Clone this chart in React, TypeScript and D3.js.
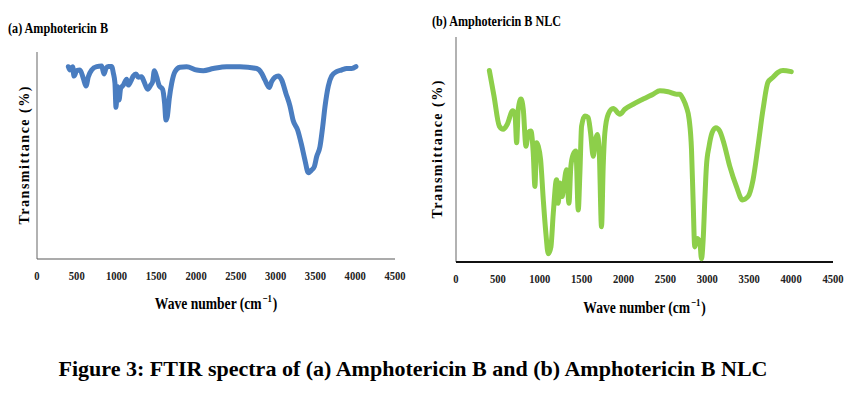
import * as d3 from "d3";
import { useEffect, useRef } from "react";

// (a) Amphotericin B – wave number (cm-1) vs transmittance (%)
const waveA = [
  394, 415, 448, 465, 500, 540, 582, 616, 645, 687, 750, 813, 842, 867, 896, 938,
  960, 980, 993, 1010, 1031, 1051, 1085, 1127, 1148, 1177, 1211, 1244, 1274, 1315,
  1345, 1391, 1429, 1454, 1475, 1504, 1537, 1579, 1604, 1621, 1638, 1663, 1693,
  1734, 1797, 1881, 2007, 2090, 2216, 2384, 2551, 2761, 2824, 2865, 2920, 2949,
  2991, 3033, 3075, 3129, 3180, 3221, 3276, 3326, 3368, 3410, 3452, 3486, 3515,
  3557, 3591, 3620, 3662, 3704, 3766, 3829, 3892, 3955, 4009,
];
const transA = [
  92.9, 91.3, 92.9, 88.4, 91, 91.3, 87.3, 83.6, 88, 91.3, 92.9, 93.2, 89.4, 92, 93, 93,
  89.7, 84.9, 73.3, 83.3, 76.8, 82.4, 84, 86.8, 84, 85.7, 88.4, 89.4, 87.8, 88.1,
  85.7, 82, 84, 85.7, 91, 88, 83.6, 82, 75.2, 67.1, 68.8, 77.6, 84.9,
  90.5, 92.6, 92.9, 91.3, 91, 92, 92.9, 92.9, 92, 89.7, 86.5, 82.9, 85.7,
  87.8, 88.4, 86.5, 80, 73.9, 66.8, 62.3, 55, 47.8, 41.7, 43, 44.6, 49.4,
  54.3, 63.9, 73.6, 83.6, 88.4, 90.5, 91.3, 92, 92, 92.9,
];

// (b) Amphotericin B NLC
const waveB = [
  398, 453, 517, 564, 612, 676, 704, 724, 743, 775, 803, 835, 863, 894, 922, 942,
  962, 982, 1010, 1042, 1073, 1101, 1133, 1161, 1200, 1220, 1240, 1268, 1288, 1320,
  1348, 1371, 1399, 1431, 1459, 1479, 1499, 1538, 1578, 1606, 1638, 1666, 1686,
  1709, 1737, 1757, 1777, 1817, 1876, 1956, 2015, 2115, 2234, 2353, 2433, 2532,
  2632, 2671, 2711, 2751, 2783, 2811, 2830, 2850, 2878, 2910, 2930, 2950, 2970,
  2989, 3021, 3057, 3101, 3148, 3196, 3268, 3347, 3419, 3486, 3546, 3605, 3665,
  3724, 3784, 3844, 3903, 4002,
];
const transB = [
  85.1, 73.9, 60.4, 59, 61.2, 67.2, 65.7, 53, 67.9, 72.4, 67.9, 51.5, 57.5, 58.2, 48.5, 33.6,
  53, 51.5, 45.5, 27.6, 12.7, 3.7, 6.7, 21.6, 36.6, 26.1, 35.1, 29.1, 34.3, 41,
  26.1, 42.5, 47.8, 49.3, 23.1, 39.6, 60.4, 64.9, 64.2, 57.5, 47, 54.5, 56.7,
  50, 15.7, 42.5, 57.5, 65.7, 68.2, 65.7, 67.9, 70.1, 72.4, 74.6, 76.1, 75.7,
  74.6, 74.6, 72.4, 68.7, 63.4, 50, 27.6, 6.7, 10.4, 9, 1.5, 9.7, 27.6,
  42.5, 51.5, 57.5, 59.7, 58.2, 53, 42.5, 33.6, 27.6, 29.1, 36.6, 51.5, 67.9,
  79.9, 82.1, 84.3, 85.1, 84.6,
];

const xTicks = [0, 500, 1000, 1500, 2000, 2500, 3000, 3500, 4000, 4500];

const SERIF = "'Liberation Serif', 'Times New Roman', serif";

type PanelProps = {
  title: string;
  titleX: number;
  titleY: number;
  titleLen: number;
  wave: number[];
  trans: number[];
  color: string;
  left: number;
  right: number;
  top: number;
  bottom: number;
  xAxisColor: string;
  xAxisWidth: number;
  yLabelX: number;
  xLabelY: number;
  tickY: number;
};

function drawPanel(g: d3.Selection<SVGGElement, unknown, null, undefined>, p: PanelProps) {
  const x = d3.scaleLinear().domain([0, 4500]).range([p.left, p.right]);
  const y = d3.scaleLinear().domain([0, 100]).range([p.bottom, p.top]);

  g.append("text")
    .attr("x", p.titleX)
    .attr("y", p.titleY)
    .attr("font-family", SERIF)
    .attr("font-weight", "bold")
    .attr("font-size", 15)
    .attr("textLength", p.titleLen)
    .attr("lengthAdjust", "spacingAndGlyphs")
    .text(p.title);

  // y axis line (no ticks)
  g.append("line")
    .attr("x1", p.left)
    .attr("x2", p.left)
    .attr("y1", p.top)
    .attr("y2", p.bottom)
    .attr("stroke", "#7f7f7f")
    .attr("stroke-width", 1.2);

  g.append("line")
    .attr("x1", p.left)
    .attr("x2", p.right)
    .attr("y1", p.bottom)
    .attr("y2", p.bottom)
    .attr("stroke", p.xAxisColor)
    .attr("stroke-width", p.xAxisWidth);

  g.selectAll(".tick")
    .data(xTicks)
    .join("text")
    .attr("x", (d) => x(d))
    .attr("y", p.tickY)
    .attr("text-anchor", "middle")
    .attr("font-family", SERIF)
    .attr("font-weight", "bold")
    .attr("font-size", 13)
    .attr("textLength", (d) => String(d).length * 5.3)
    .attr("lengthAdjust", "spacingAndGlyphs")
    .attr("fill", "#222")
    .text((d) => String(d));

  const line = d3
    .line<number>()
    .x((_, i) => x(p.wave[i]))
    .y((d) => y(d))
    .curve(d3.curveMonotoneX);

  g.append("path")
    .datum(p.trans)
    .attr("fill", "none")
    .attr("stroke", p.color)
    .attr("stroke-width", 5)
    .attr("stroke-linejoin", "round")
    .attr("stroke-linecap", "round")
    .attr("d", line);

  const midY = (p.top + p.bottom) / 2;
  g.append("text")
    .attr("transform", `translate(${p.yLabelX},${midY}) rotate(-90)`)
    .attr("text-anchor", "middle")
    .attr("font-family", SERIF)
    .attr("font-weight", "bold")
    .attr("font-size", 14)
    .attr("textLength", 138)
    .attr("lengthAdjust", "spacing")
    .text("Transmittance  (%)");

  // condensed look through a horizontal squeeze
  const xl = g
    .append("text")
    .attr("transform", `translate(${(p.left + p.right) / 2},${p.xLabelY}) scale(0.8,1)`)
    .attr("text-anchor", "middle")
    .attr("font-family", SERIF)
    .attr("font-weight", "bold")
    .attr("font-size", 17);
  xl.append("tspan").text("Wave number (cm");
  xl.append("tspan").attr("font-size", 11).attr("dy", -7).attr("dx", 1).text("\u22121");
  xl.append("tspan").attr("dy", 7).attr("dx", 1).text(")");
}

function App() {
  const ref = useRef<SVGSVGElement>(null);

  useEffect(() => {
    const svg = d3.select(ref.current);
    svg.selectAll("*").remove();

    drawPanel(svg.append("g"), {
      title: "(a) Amphotericin  B",
      titleX: 8,
      titleY: 33,
      titleLen: 100,
      wave: waveA,
      trans: transA,
      color: "#4a7dc0",
      left: 37,
      right: 395,
      top: 52,
      bottom: 259,
      xAxisColor: "#595959",
      xAxisWidth: 1.2,
      yLabelX: 29,
      xLabelY: 309,
      tickY: 280,
    });

    drawPanel(svg.append("g"), {
      title: "(b) Amphotericin  B NLC",
      titleX: 432,
      titleY: 26,
      titleLen: 129,
      wave: waveB,
      trans: transB,
      color: "#8dcf4a",
      left: 456,
      right: 833,
      top: 37,
      bottom: 262,
      xAxisColor: "#111",
      xAxisWidth: 2,
      yLabelX: 442,
      xLabelY: 313,
      tickY: 283,
    });

    svg
      .append("text")
      .attr("x", 413)
      .attr("y", 376)
      .attr("text-anchor", "middle")
      .attr("font-family", SERIF)
      .attr("font-weight", "bold")
      .attr("font-size", 21)
      .attr("textLength", 709)
      .attr("lengthAdjust", "spacingAndGlyphs")
      .text("Figure 3: FTIR spectra of (a) Amphotericin B and (b) Amphotericin B NLC");
  }, []);

  return (
    <svg
      ref={ref}
      width={854}
      height={393}
      style={{ position: "absolute", left: 0, top: 0, background: "#fff" }}
    />
  );
}

export default App;
